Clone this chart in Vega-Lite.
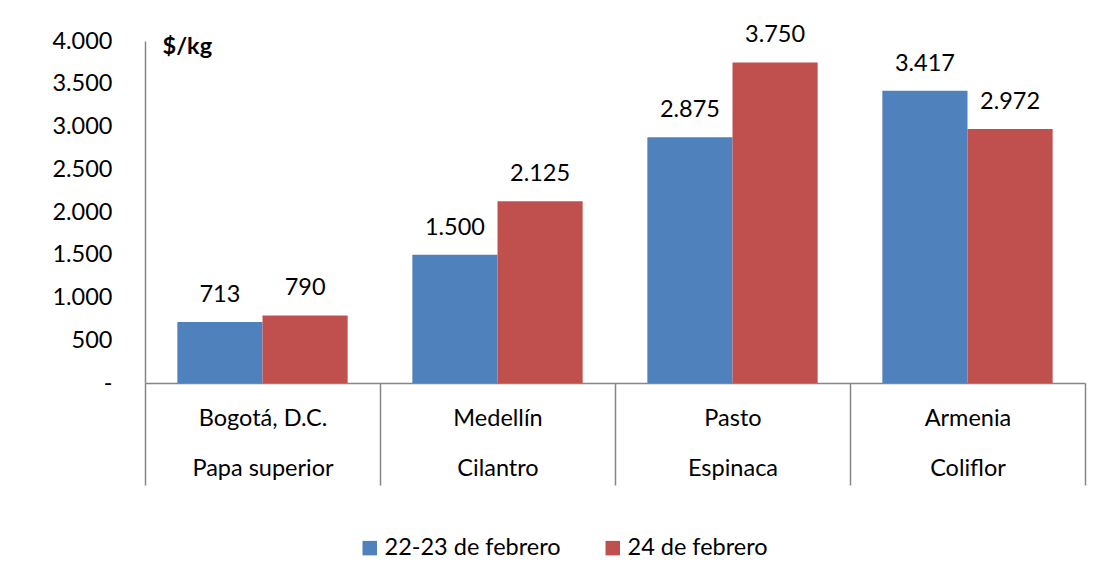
{
  "$schema": "https://vega.github.io/schema/vega-lite/v6.json",
  "autosize": "none",
  "width": 940,
  "height": 342,
  "padding": {"left": 145, "top": 41, "right": 13, "bottom": 200},
  "config": {
    "font": "Lato",
    "view": {"stroke": null},
    "locale": {"number": {"decimal": ",", "thousands": ".", "grouping": [3], "currency": ["$", ""]}}
  },
  "data": {
    "values": [
      {"cat": "Bogotá, D.C.|Papa superior", "serie": "22-23 de febrero", "precio": 713},
      {"cat": "Bogotá, D.C.|Papa superior", "serie": "24 de febrero", "precio": 790},
      {"cat": "Medellín|Cilantro", "serie": "22-23 de febrero", "precio": 1500},
      {"cat": "Medellín|Cilantro", "serie": "24 de febrero", "precio": 2125},
      {"cat": "Pasto|Espinaca", "serie": "22-23 de febrero", "precio": 2875},
      {"cat": "Pasto|Espinaca", "serie": "24 de febrero", "precio": 3750},
      {"cat": "Armenia|Coliflor", "serie": "22-23 de febrero", "precio": 3417},
      {"cat": "Armenia|Coliflor", "serie": "24 de febrero", "precio": 2972}
    ]
  },
  "encoding": {
    "x": {
      "field": "cat", "type": "nominal", "sort": null,
      "scale": {"paddingInner": 0, "paddingOuter": 0},
      "axis": {
        "title": null, "labelAngle": 0,
        "labelExpr": "split(datum.label, '|')",
        "labelLineHeight": 50, "labelBaseline": "top",
        "labelFontSize": 23.5, "labelColor": "#000000",
        "labelPadding": -79,
        "tickBand": "extent", "tickSize": 102, "tickColor": "#868686",
        "domainColor": "#868686", "domainWidth": 1.5, "tickWidth": 1.5
      }
    },
    "xOffset": {
      "field": "serie", "type": "nominal", "sort": ["22-23 de febrero", "24 de febrero"],
      "scale": {"paddingInner": 0, "paddingOuter": 0.38}
    },
    "y": {
      "field": "precio", "type": "quantitative",
      "scale": {"domain": [0, 4000]},
      "axis": {
        "title": "$/kg", "titleAngle": 0, "titleAlign": "left", "titleBaseline": "middle",
        "titleX": 17, "titleY": 5, "titleFontSize": 23.5, "titleFontWeight": "bold", "titleColor": "#000000",
        "values": [0, 500, 1000, 1500, 2000, 2500, 3000, 3500, 4000],
        "format": ",d",
        "labelExpr": "datum.value == 0 ? '-' : datum.label",
        "labelFontSize": 23.5, "labelColor": "#000000",
        "ticks": false, "labelPadding": 33, "grid": false,
        "domainColor": "#868686", "domainWidth": 1.5
      }
    }
  },
  "layer": [
    {
      "mark": {"type": "bar"},
      "encoding": {
        "color": {
          "field": "serie", "type": "nominal",
          "scale": {"domain": ["22-23 de febrero", "24 de febrero"], "range": ["#4F81BD", "#C0504D"]},
          "legend": {
            "title": null, "orient": "none", "direction": "horizontal",
            "legendX": 213, "legendY": 495,
            "symbolType": "square", "symbolSize": 210, "symbolStrokeWidth": 0,
            "labelFontSize": 23.5, "labelColor": "#000000", "labelLimit": 300,
            "columnPadding": 40, "labelOffset": 3
          }
        }
      }
    },
    {
      "mark": {"type": "text", "baseline": "bottom", "dy": -15, "fontSize": 23.5, "color": "#000000"},
      "encoding": {
        "text": {"field": "precio", "type": "quantitative", "format": ",d"}
      }
    }
  ]
}
